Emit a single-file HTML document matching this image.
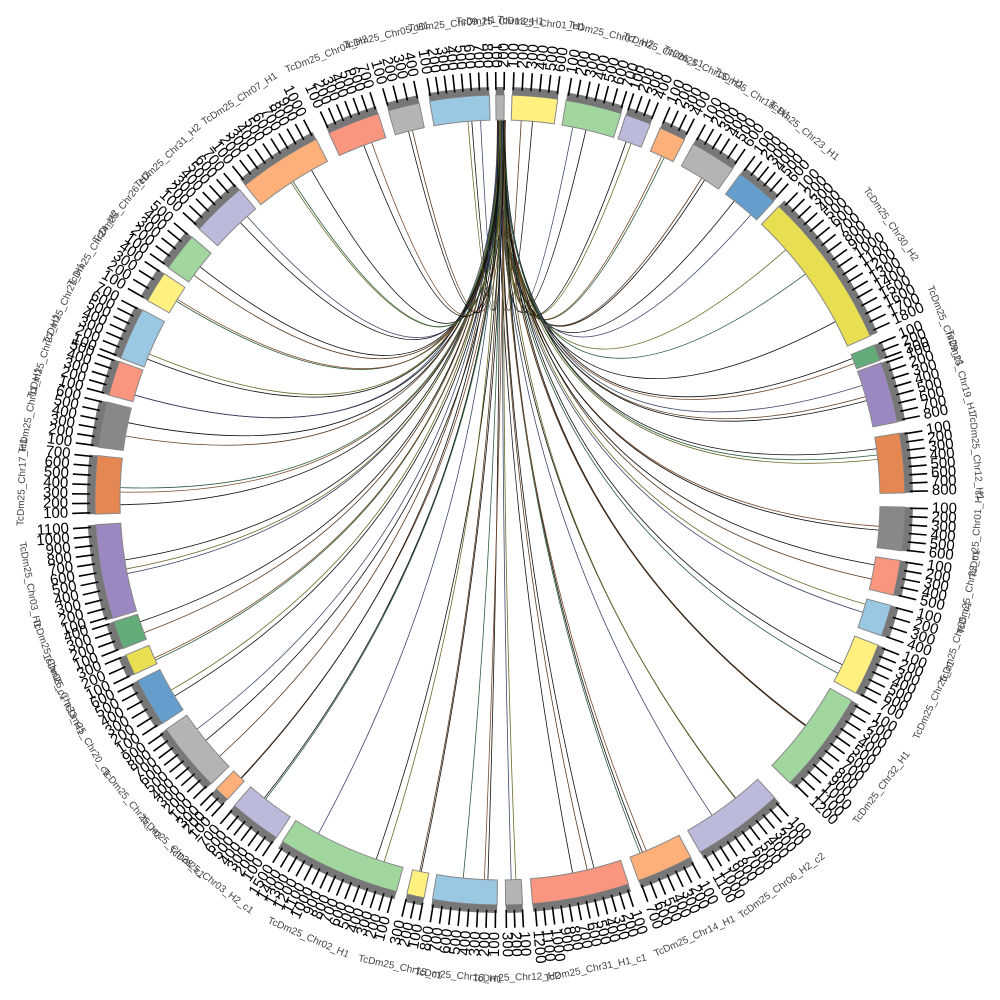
<!DOCTYPE html>
<html><head><meta charset="utf-8">
<style>html,body{margin:0;padding:0;background:#fff;width:1000px;height:1000px;overflow:hidden}</style>
</head><body>
<svg id="s" width="1000" height="1000" xmlns="http://www.w3.org/2000/svg"></svg>
<script>
var S=document.getElementById('s');
var cx=500,cy=500;
function P(a,r){var t=a*Math.PI/180;return [cx+r*Math.sin(t),cy-r*Math.cos(t)];}
function f(p){return p[0].toFixed(2)+','+p[1].toFixed(2);}
function sector(a1,a2,r1,r2){var L=(a2-a1)>180?1:0;
 return 'M'+f(P(a1,r2))+'A'+r2+','+r2+' 0 '+L+' 1 '+f(P(a2,r2))+'L'+f(P(a2,r1))+'A'+r1+','+r1+' 0 '+L+' 0 '+f(P(a1,r1))+'Z';}
var segs=[[-0.6,0.6,'#b3b3b3'],[1.7,8.2,'#fff080'],[9.4,17.4,'#a1d79f'],[18.1,21.8,'#bcbadb'],[23.3,27.1,'#fdb07a'],[28.5,35.1,'#b4b4b4'],[36.4,42.5,'#659ecd'],[43.5,66.1,'#e8de52'],[67.5,69.8,'#63ac7a'],[70.2,78.9,'#9b88c1'],[80.5,89,'#e48753'],[91,97.2,'#888888'],[98.6,103.6,'#fa9680'],[105.1,109.6,'#9ac8e3'],[111,118.5,'#fff080'],[119.7,134.3,'#a1d79f'],[137.3,150.4,'#bcbadb'],[151.9,160,'#fdb07a'],[161.5,175.4,'#fa9680'],[176.8,179.2,'#b4b4b4'],[180.4,189.6,'#9ac8e3'],[190.8,193.3,'#fff080'],[194.8,212.5,'#a1d79f'],[213.5,221,'#bcbadb'],[222.3,224.5,'#fdb07a'],[225.5,235.5,'#b4b4b4'],[236.5,243.5,'#659ecd'],[244.5,247.5,'#e8de52'],[248.5,252.5,'#63ac7a'],[253,266.5,'#9b88c1'],[268,276.3,'#e48753'],[277.5,284,'#888888'],[285,290,'#fa9680'],[290.5,298,'#9ac8e3'],[299.5,304,'#fff080'],[305,310.5,'#a1d79f'],[312,320,'#bcbadb'],[321,333,'#fdb07a'],[335,342.5,'#fa9680'],[344,348.5,'#b4b4b4'],[350,358.5,'#9ac8e3']];
var names=['Chr13_H1','Chr01_H1','Chr07_H2','Chr26_c1','Chr15_H1','Chr18_H1','Chr23_H1','Chr30_H2','Chr29_c1','Chr19_H1','Chr12_H1','Chr01_H2','Chr22_c1','Chr05_c1','Chr25_c1','Chr32_H1','Chr06_H2_c2','Chr14_H1','Chr31_H1_c1','Chr12_H2','Chr16_H1','Chr15_c1','Chr02_H1','Chr03_H2_c1','Chr28_c1','Chr25_H2','Chr20_c1','Chr33_H1','Chr08_c1','Chr03_H1','Chr17_H1','Chr11_H1','Chr27_H1','Chr21_H1','Chr24_H2','Chr26_H2','Chr31_H2','Chr07_H1','Chr04_H2','Chr05_H1','Chr09_H1'];
var h='';
var cols=['#111','#5a3a1e','#111','#3c4a6a','#6b6a2a','#111','#2e5e3e','#7a4a2a'];
var seed=7;function rnd(){seed=(seed*9301+49297)%233280;return seed/233280;}
var k=0;
for(var i=1;i<segs.length;i++){var s=segs[i];var n=(s[1]-s[0]>8)?3:2;
 for(var j=0;j<n;j++){var a=s[0]+(s[1]-s[0])*(0.15+0.7*rnd());
  var sa=-0.4+1.2*rnd();var p1=P(sa,380),p2=P(a,380);
  h+='<path d="M'+f(p1)+'Q'+cx+','+cy+' '+f(p2)+'" fill="none" stroke="'+cols[k++%cols.length]+'" stroke-width="0.8"/>';}}
for(var i=0;i<segs.length;i++){var s=segs[i];
 h+='<path d="'+sector(s[0],s[1],380,405)+'" fill="'+s[2]+'" stroke="#888" stroke-width="1"/>';
 h+='<path d="'+sector(s[0],s[1],405,413)+'" fill="#777"/>';
 var span=s[1]-s[0];var nt=Math.max(1,Math.round(span/1.3));
 for(var t=0;t<=nt;t++){var a=s[0]+span*t/nt*0.95+span*0.025;
  var q1=P(a,410),q2=P(a,428);
  h+='<line x1="'+q1[0].toFixed(1)+'" y1="'+q1[1].toFixed(1)+'" x2="'+q2[0].toFixed(1)+'" y2="'+q2[1].toFixed(1)+'" stroke="#000" stroke-width="1.6"/>';
  var q=P(a,432);var an=((a%360)+360)%360;var lbl=String((t+1)*100);
  if(an<180) h+='<text x="'+q[0].toFixed(1)+'" y="'+q[1].toFixed(1)+'" transform="rotate('+(a-90).toFixed(1)+' '+q[0].toFixed(1)+' '+q[1].toFixed(1)+')" font-size="15" dominant-baseline="middle" font-family="Liberation Sans,sans-serif" fill="#000">'+lbl+'</text>';
  else h+='<text x="'+q[0].toFixed(1)+'" y="'+q[1].toFixed(1)+'" transform="rotate('+(a+90).toFixed(1)+' '+q[0].toFixed(1)+' '+q[1].toFixed(1)+')" font-size="15" text-anchor="end" dominant-baseline="middle" font-family="Liberation Sans,sans-serif" fill="#000">'+lbl+'</text>';}
 var m=(s[0]+s[1])/2;var q=P(m,478);var an=((m%360)+360)%360;
 var rot=(an>90&&an<270)?m+180:m;
 h+='<text x="'+q[0].toFixed(1)+'" y="'+q[1].toFixed(1)+'" transform="rotate('+rot.toFixed(1)+' '+q[0].toFixed(1)+' '+q[1].toFixed(1)+')" font-size="10" text-anchor="middle" dominant-baseline="middle" font-family="Liberation Sans,sans-serif" fill="#444">TcDm25_'+names[i]+'</text>';}
S.innerHTML=h;
</script>
</body></html>
